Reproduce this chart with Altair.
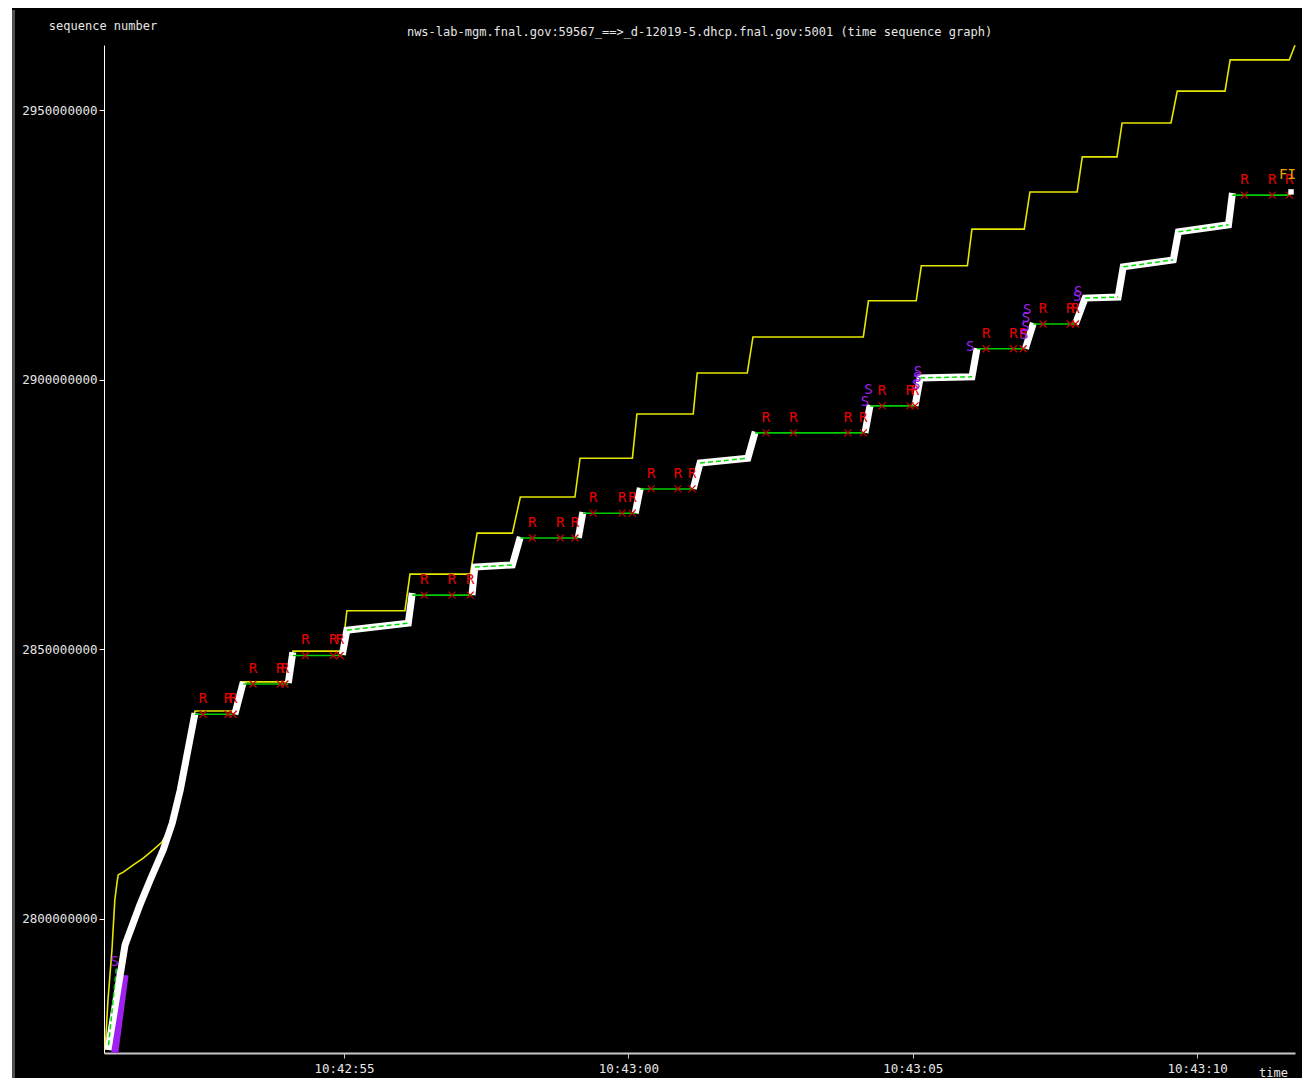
import altair as alt
import pandas as pd

TITLE = "nws-lab-mgm.fnal.gov:59567_==>_d-12019-5.dhcp.fnal.gov:5001 (time sequence graph)"
MONO = "DejaVu Sans Mono"

# time axis: seconds after 10:42:50 ; sequence numbers in millions
x_tick_values = [5, 10, 15, 20]
x_tick_labels = ["10:42:55", "10:43:00", "10:43:05", "10:43:10"]
y_tick_values = [2800, 2850, 2900, 2950]
x_domain = [0.78, 21.72]
y_domain = [2775.05, 2962.06]

# advertised receive window (yellow)
win_t = [0.80, 0.85, 0.92, 0.97, 1.01, 1.03, 1.12, 1.29, 1.47, 1.64,
         1.80, 1.89, 1.98, 2.38, 3.08, 3.20, 4.05, 4.10, 4.97, 5.05,
         6.07, 6.16, 7.22, 7.34, 7.96, 8.10, 9.06, 9.15, 10.07, 10.15,
         11.14, 11.21, 12.09, 12.19, 14.13, 14.22, 15.06, 15.15, 15.96, 16.04,
         16.96, 17.06, 17.89, 17.98, 18.59, 18.68, 19.54, 19.65, 20.49, 20.58,
         21.62, 21.72]
win_seq = [2775.6, 2784.9, 2794.2, 2803.4, 2806.8, 2808.1, 2808.6, 2809.9, 2811.2, 2812.7,
           2814.2, 2815.9, 2817.7, 2838.5, 2838.5, 2843.9, 2843.9, 2849.6, 2849.6, 2857.1,
           2857.1, 2863.9, 2863.9, 2871.5, 2871.5, 2878.2, 2878.2, 2885.4, 2885.4, 2893.6,
           2893.6, 2901.2, 2901.2, 2907.9, 2907.9, 2914.6, 2914.6, 2921.1, 2921.1, 2927.9,
           2927.9, 2934.8, 2934.8, 2941.3, 2941.3, 2947.6, 2947.6, 2953.5, 2953.5, 2959.3,
           2959.3, 2962.0]

# data segments (white)
seg_id = [1, 1, 1, 1, 1, 1, 1, 1,
          2, 2,
          3, 3,
          4, 4, 4, 4,
          5, 5, 5, 5,
          6, 6,
          7, 7,
          8, 8, 8, 8,
          9, 9,
          10, 10, 10, 10,
          11, 11,
          12, 12, 12, 12, 12, 12, 12, 12]
seg_t = [0.85, 1.15, 1.41, 1.59, 1.82, 1.98, 2.12, 2.38,
         3.08, 3.23,
         4.02, 4.10,
         4.97, 5.05, 6.13, 6.20,
         7.25, 7.30, 7.96, 8.10,
         9.12, 9.20,
         10.12, 10.21,
         11.14, 11.26, 12.10, 12.23,
         14.16, 14.25,
         15.04, 15.13, 16.04, 16.13,
         16.98, 17.12,
         17.86, 18.03, 18.61, 18.70, 19.58, 19.67, 20.55, 20.62]
seg_seq = [2775.6, 2795.1, 2802.5, 2807.1, 2812.7, 2817.7, 2823.8, 2838.1,
           2837.9, 2843.9,
           2843.7, 2849.4,
           2848.9, 2853.5, 2854.8, 2860.4,
           2860.0, 2865.2, 2865.6, 2870.8,
           2870.6, 2875.4,
           2875.2, 2879.9,
           2879.7, 2884.5, 2885.4, 2890.3,
           2890.1, 2895.3,
           2895.1, 2900.3, 2900.5, 2905.8,
           2905.7, 2910.5,
           2910.3, 2915.1, 2915.3, 2920.9, 2922.2, 2927.4, 2928.7, 2934.6]

# ack line, flat parts (green)
ack_t0 = [2.38, 3.23, 4.10, 6.20, 8.10, 9.20, 10.21, 12.23, 14.25, 16.13, 17.12, 20.62]
ack_t1 = [3.08, 4.02, 4.97, 7.25, 9.12, 10.12, 11.14, 14.16, 15.04, 16.98, 17.86, 21.64]
ack_seq = [2837.9, 2843.5, 2848.8, 2860.0, 2870.6, 2875.2, 2879.7, 2890.1, 2895.1, 2905.7, 2910.3, 2934.2]

# ack line inside the data bursts (dashed green)
ackd_t0 = [5.05, 7.30, 11.26, 15.13, 18.03, 18.70, 19.67, 0.86]
ackd_s0 = [2853.5, 2865.2, 2884.5, 2900.3, 2915.1, 2920.9, 2927.4, 2776.5]
ackd_t1 = [6.13, 7.96, 12.10, 16.04, 18.61, 19.58, 20.55, 1.00]
ackd_s1 = [2854.8, 2865.6, 2885.4, 2900.5, 2915.3, 2922.2, 2928.7, 2791.0]

# retransmissions (R)
rexmit_t = [2.52, 2.96, 3.05, 3.40, 3.88, 3.96, 4.32, 4.81, 4.93,
            6.41, 6.90, 7.22, 8.31, 8.80, 9.06, 9.38, 9.89, 10.07,
            10.40, 10.87, 11.12, 12.42, 12.90, 13.86, 14.13,
            14.46, 14.95, 15.04, 16.29, 16.77, 16.94, 17.29, 17.77, 17.86,
            20.83, 21.32, 21.62]
rexmit_seq = [2837.9, 2837.9, 2837.9, 2843.5, 2843.5, 2843.5, 2848.8, 2848.8, 2848.8,
              2860.0, 2860.0, 2860.0, 2870.6, 2870.6, 2870.6, 2875.2, 2875.2, 2875.2,
              2879.7, 2879.7, 2879.7, 2890.1, 2890.1, 2890.1, 2890.1,
              2895.1, 2895.1, 2895.1, 2905.7, 2905.7, 2905.7, 2910.3, 2910.3, 2910.3,
              2934.2, 2934.2, 2934.2]

# SACK labels (S)
sack_t = [0.97, 14.22, 14.16, 15.09, 15.08, 15.06, 16.01, 17.01, 16.99, 16.98, 16.96, 17.91, 17.89]
sack_seq = [2791.9, 2898.1, 2895.8, 2901.4, 2900.3, 2899.0, 2906.0, 2912.9, 2911.4, 2909.7, 2908.3, 2916.2, 2915.3]

# SACK blocks (purple), early in the connection
sblk_t0 = [0.97]
sblk_s0 = [2775.1]
sblk_t1 = [1.15]
sblk_s1 = [2789.5]
sblk2_t0 = [0.90]
sblk2_s0 = [2775.6]
sblk2_t1 = [1.03]
sblk2_s1 = [2790.5]

# FIN
fin_t = [21.44]
fin_seq = [2937.9]
end_t = [21.65]
end_seq = [2934.8]

M = 1e6

win_df = pd.DataFrame({"t": win_t, "seq": [v * M for v in win_seq]})
seg_df = pd.DataFrame({"seg": seg_id, "t": seg_t, "seq": [v * M for v in seg_seq],
                       "i": list(range(len(seg_t)))})
ack_df = pd.DataFrame({"t0": ack_t0, "t1": ack_t1, "seq": [v * M for v in ack_seq]})
ackd_df = pd.DataFrame({"t0": ackd_t0, "t1": ackd_t1,
                        "s0": [v * M for v in ackd_s0], "s1": [v * M for v in ackd_s1]})
rex_df = pd.DataFrame({"t": rexmit_t, "seq": [v * M for v in rexmit_seq]})
sack_df = pd.DataFrame({"t": sack_t, "seq": [v * M for v in sack_seq]})
sblk_df = pd.DataFrame({"t0": sblk_t0, "t1": sblk_t1,
                        "s0": [v * M for v in sblk_s0], "s1": [v * M for v in sblk_s1]})
sblk2_df = pd.DataFrame({"t0": sblk2_t0, "t1": sblk2_t1,
                         "s0": [v * M for v in sblk2_s0], "s1": [v * M for v in sblk2_s1]})
fin_df = pd.DataFrame({"t": fin_t, "seq": [v * M for v in fin_seq]})
end_df = pd.DataFrame({"t": end_t, "seq": [v * M for v in end_seq]})

label_expr = "''"
for v, l in reversed(list(zip(x_tick_values, x_tick_labels))):
    label_expr = f"datum.value === {v} ? '{l}' : ({label_expr})"

AX_COL = "#e6e6e6"

x_scale = alt.Scale(domain=x_domain, nice=False, zero=False)
y_scale = alt.Scale(domain=[v * M for v in y_domain], nice=False, zero=False)

x_axis = alt.Axis(values=x_tick_values, labelExpr=label_expr, grid=False,
                  tickSize=5, labelPadding=4, domainColor="#c8c8c8", domainWidth=2,
                  tickColor="#c8c8c8", labelColor=AX_COL, labelFont=MONO, labelFontSize=12.5,
                  title="time", titleFont=MONO, titleFontSize=12, titleFontWeight="normal",
                  titleColor=AX_COL, titleX=1169, titleY=19, titleAlign="center",
                  titleBaseline="middle", labelFlush=False, labelOverlap=False)
y_axis = alt.Axis(values=[v * M for v in y_tick_values], format="d", grid=False,
                  tickSize=5, labelPadding=2, domainColor="#ffffff", tickColor="#ffffff",
                  labelColor=AX_COL, labelFont=MONO, labelFontSize=12.5,
                  title="sequence number", titleFont=MONO, titleFontSize=12,
                  titleFontWeight="normal", titleColor=AX_COL, titleAngle=0,
                  titleX=-1.5, titleY=-20, titleAlign="center", titleBaseline="middle",
                  labelFlush=False, labelOverlap=False)

X = lambda f: alt.X(f, type="quantitative", scale=x_scale, axis=x_axis)
Y = lambda f: alt.Y(f, type="quantitative", scale=y_scale, axis=y_axis)

one = pd.DataFrame({"k": [0]})
frame_white = alt.Chart(one).mark_rect(color="white").encode(
    x=alt.value(-96), x2=alt.value(-92), y=alt.value(-37), y2=alt.value(1033))
frame_grey = alt.Chart(one).mark_rule(color="#505050", strokeWidth=3).encode(
    x=alt.value(-90.5), y=alt.value(-35), y2=alt.value(1033))

yellow = alt.Chart(win_df).mark_line(color="#e6e600", strokeWidth=1.6).encode(
    x=X("t"), y=Y("seq"))

purple1 = alt.Chart(sblk_df).mark_rule(color="#a020f0", strokeWidth=7).encode(
    x=X("t0"), x2="t1", y=Y("s0"), y2="s1")
purple2 = alt.Chart(sblk2_df).mark_rule(color="#a020f0", strokeWidth=3).encode(
    x=X("t0"), x2="t1", y=Y("s0"), y2="s1")

white = alt.Chart(seg_df).mark_line(color="white", strokeWidth=7, strokeCap="butt").encode(
    x=X("t"), y=Y("seq"), detail="seg:N", order="i:Q")

green = alt.Chart(ack_df).mark_rule(color="#00cc00", strokeWidth=1.6).encode(
    x=X("t0"), x2="t1", y=Y("seq"))
green_d = alt.Chart(ackd_df).mark_rule(color="#00dd00", strokeWidth=1.5,
                                       strokeDash=[5, 3]).encode(
    x=X("t0"), x2="t1", y=Y("s0"), y2="s1")

rx = alt.Chart(rex_df).mark_point(shape="M-1,-1L1,1M1,-1L-1,1", size=49, filled=False,
                                  color="#cc0000", strokeWidth=1.2, opacity=1).encode(
    x=X("t"), y=Y("seq"))
rtext = alt.Chart(rex_df).mark_text(text="R", color="#ee0000", font=MONO, fontSize=14,
                                    dy=-15, baseline="middle", align="center").encode(
    x=X("t"), y=Y("seq"))
stext = alt.Chart(sack_df).mark_text(text="S", color="#a020f0", font=MONO, fontSize=14,
                                     baseline="middle", align="center").encode(
    x=X("t"), y=Y("seq"))
fin = alt.Chart(fin_df).mark_text(text="FIN", color="#f0a000", font=MONO, fontSize=14,
                                  baseline="middle", align="left", clip=True).encode(
    x=X("t"), y=Y("seq"))
endm = alt.Chart(end_df).mark_square(size=30, color="white", opacity=1).encode(
    x=X("t"), y=Y("seq"))

chart = alt.layer(
    frame_white, frame_grey, yellow, purple1, purple2, white, green, green_d,
    rx, rtext, stext, fin, endm
).properties(
    width=1191, height=1008,
    padding={"left": 96, "top": 37, "right": 7, "bottom": 25},
    autosize=alt.AutoSizeParams(type="none"),
    title=alt.TitleParams(TITLE, anchor="middle", frame="group", font=MONO, fontSize=12,
                          fontWeight="normal", color=AX_COL, offset=0,
                          baseline="middle", dy=36),
).configure(background="black").configure_view(stroke=None)

chart.save("out.html", embed_options={"renderer": "svg", "actions": False})
